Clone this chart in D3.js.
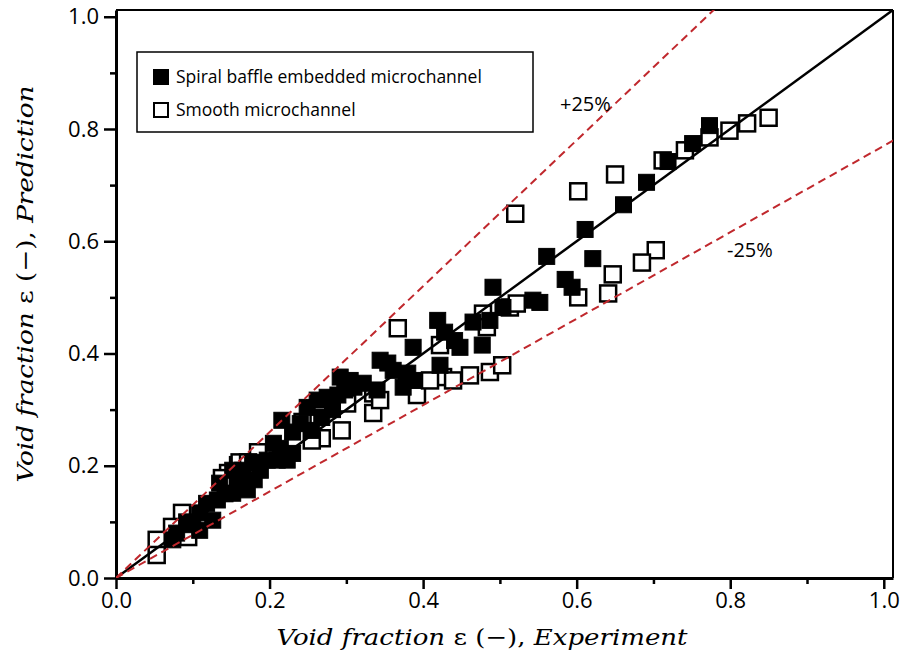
<!DOCTYPE html>
<html><head><meta charset="utf-8">
<script src="https://cdn.jsdelivr.net/npm/d3@7"></script>
<style>body{margin:0;background:#fff}</style>
</head><body>
<svg id="c" width="902" height="657"></svg>
<script>
// ---- data ----
const spiralExp  = [0.773,0.751,0.719,0.691,0.661,0.611,0.561,0.621,0.585,0.594,0.543,0.552,0.491,0.504,0.487,0.465,0.419,0.428,0.441,0.448,0.477,0.387,0.422,0.344,0.354,0.361,0.380,0.387,0.374,0.305,0.292,0.322,0.340,0.298,0.289,0.275,0.262,0.249,0.268,0.255,0.216,0.230,0.214,0.230,0.210,0.223,0.197,0.178,0.188,0.165,0.152,0.135,0.171,0.152,0.132,0.118,0.109,0.126,0.109,0.092,0.079,0.074,0.310,0.282,0.240,0.205,0.180,0.160,0.142,0.100];
const spiralPred = [0.806,0.774,0.742,0.705,0.665,0.621,0.573,0.569,0.532,0.518,0.495,0.491,0.518,0.482,0.459,0.456,0.459,0.438,0.423,0.411,0.415,0.411,0.379,0.388,0.383,0.370,0.365,0.352,0.340,0.352,0.358,0.347,0.335,0.335,0.326,0.322,0.317,0.304,0.286,0.263,0.281,0.260,0.231,0.222,0.210,0.210,0.210,0.206,0.192,0.192,0.192,0.169,0.157,0.151,0.139,0.133,0.116,0.103,0.085,0.100,0.080,0.068,0.340,0.300,0.275,0.240,0.175,0.165,0.150,0.095];
const smoothExp  = [0.850,0.822,0.799,0.773,0.741,0.712,0.650,0.602,0.520,0.703,0.685,0.647,0.602,0.641,0.513,0.522,0.478,0.483,0.367,0.422,0.426,0.461,0.487,0.503,0.439,0.379,0.392,0.409,0.335,0.301,0.294,0.335,0.344,0.243,0.268,0.185,0.159,0.146,0.138,0.161,0.172,0.086,0.073,0.053,0.053,0.094,0.255];
const smoothPred = [0.820,0.810,0.797,0.785,0.762,0.744,0.719,0.689,0.649,0.584,0.562,0.541,0.500,0.507,0.482,0.489,0.471,0.447,0.445,0.415,0.358,0.361,0.367,0.379,0.352,0.347,0.326,0.352,0.329,0.311,0.263,0.294,0.317,0.278,0.249,0.224,0.201,0.187,0.178,0.206,0.206,0.116,0.091,0.068,0.041,0.073,0.245];
const majorTicks = [0,0.2,0.4,0.6,0.8,1.0];
const minorTicks = [0.1,0.3,0.5,0.7,0.9];
const legendLabels = ["Spiral baffle embedded microchannel","Smooth microchannel"];
const boundSlopes = [1.3, 0.77];
const boundLabels = ["+25%","-25%"];

// ---- layout ----
const svg = d3.select("#c");
const L=116, R=893, T=10, B=578;
const x = d3.scaleLinear().domain([0,1.012]).range([L,R]);
const y = d3.scaleLinear().domain([0,1.012]).range([B,T]);
const sans = "'Open Sans', Lato, sans-serif";

svg.append("clipPath").attr("id","clip").append("rect")
  .attr("x",L).attr("y",T).attr("width",R-L).attr("height",B-T);

// frame top/right
svg.append("line").attr("x1",L).attr("x2",R).attr("y1",T).attr("y2",T).attr("stroke","#000").attr("stroke-width",2);
svg.append("line").attr("x1",R).attr("x2",R).attr("y1",T).attr("y2",B).attr("stroke","#000").attr("stroke-width",2);

// axes
function styleAxis(g){
  g.select(".domain").attr("stroke-width",3);
  g.selectAll(".tick line").attr("stroke-width",2.5);
  g.selectAll("text").attr("font-family",sans).attr("font-size",22).attr("fill","#000");
}
const xAxis = svg.append("g").attr("transform",`translate(0,${B})`)
  .call(d3.axisBottom(x).tickValues(majorTicks).tickFormat(d3.format(".1f")).tickSize(11).tickPadding(3).tickSizeOuter(0));
styleAxis(xAxis);
svg.append("g").attr("transform",`translate(0,${B})`)
  .call(d3.axisBottom(x).tickValues(minorTicks).tickFormat("").tickSize(6).tickSizeOuter(0))
  .call(g=>{g.select(".domain").remove(); g.selectAll("line").attr("stroke-width",2.5);});
const yAxis = svg.append("g").attr("transform",`translate(${L},0)`)
  .call(d3.axisLeft(y).tickValues(majorTicks).tickFormat(d3.format(".1f")).tickSize(12).tickPadding(5).tickSizeOuter(0));
styleAxis(yAxis);
svg.append("g").attr("transform",`translate(${L},0)`)
  .call(d3.axisLeft(y).tickValues(minorTicks).tickFormat("").tickSize(6).tickSizeOuter(0))
  .call(g=>{g.select(".domain").remove(); g.selectAll("line").attr("stroke-width",2.5);});

// markers
const S = 16;
const plot = svg.append("g");
plot.selectAll("rect.sm").data(d3.zip(smoothExp,smoothPred)).join("rect").attr("class","sm")
  .attr("x",d=>x(d[0])-S/2).attr("y",d=>y(d[1])-S/2).attr("width",S).attr("height",S)
  .attr("fill","#fff").attr("stroke","#000").attr("stroke-width",2.5);
plot.selectAll("rect.sp").data(d3.zip(spiralExp,spiralPred)).join("rect").attr("class","sp")
  .attr("x",d=>x(d[0])-S/2).attr("y",d=>y(d[1])-S/2).attr("width",S).attr("height",S)
  .attr("fill","#000").attr("stroke","#000").attr("stroke-width",1);

// reference lines
const lines = svg.append("g").attr("clip-path","url(#clip)");
lines.append("line").attr("x1",x(0)).attr("y1",y(0)).attr("x2",x(1.012)).attr("y2",y(1.012))
  .attr("stroke","#000").attr("stroke-width",2.5);
boundSlopes.forEach(s=>{
  lines.append("line").attr("x1",x(0)).attr("y1",y(0)).attr("x2",x(1.1)).attr("y2",y(1.1*s))
    .attr("stroke","#c0282d").attr("stroke-width",2).attr("stroke-dasharray","8,5");
});
svg.append("text").attr("x",560).attr("y",111).attr("font-family",sans).attr("font-size",20).text(boundLabels[0]);
svg.append("text").attr("x",727).attr("y",257).attr("font-family",sans).attr("font-size",20).text(boundLabels[1]);

// legend
const lg = svg.append("g");
lg.append("rect").attr("x",137).attr("y",52).attr("width",396).attr("height",80)
  .attr("fill","#fff").attr("stroke","#000").attr("stroke-width",1.5);
legendLabels.forEach((t,i)=>{
  const cy = 77 + i*33;
  lg.append("rect").attr("x",154).attr("y",cy-7).attr("width",14).attr("height",14)
    .attr("fill", i===0?"#000":"#fff").attr("stroke","#000").attr("stroke-width",2);
  lg.append("text").attr("x",176).attr("y",cy+6).attr("font-family",sans).attr("font-size",17.5).text(t);
});

// axis titles
const serif = "'DejaVu Serif','Liberation Serif',serif";
function title(sel, b, len){
  sel.attr("font-family",serif).attr("font-size",23).attr("text-anchor","middle")
     .attr("textLength",len).attr("lengthAdjust","spacingAndGlyphs");
  sel.append("tspan").attr("font-style","italic").text("Void fraction ");
  sel.append("tspan").text("ε (−), ");
  sel.append("tspan").attr("font-style","italic").text(b);
}
title(svg.append("text").attr("x",482).attr("y",645), "Experiment", 411);
title(svg.append("text").attr("transform","translate(33,284) rotate(-90)"), "Prediction", 397);
</script>
</body></html>
